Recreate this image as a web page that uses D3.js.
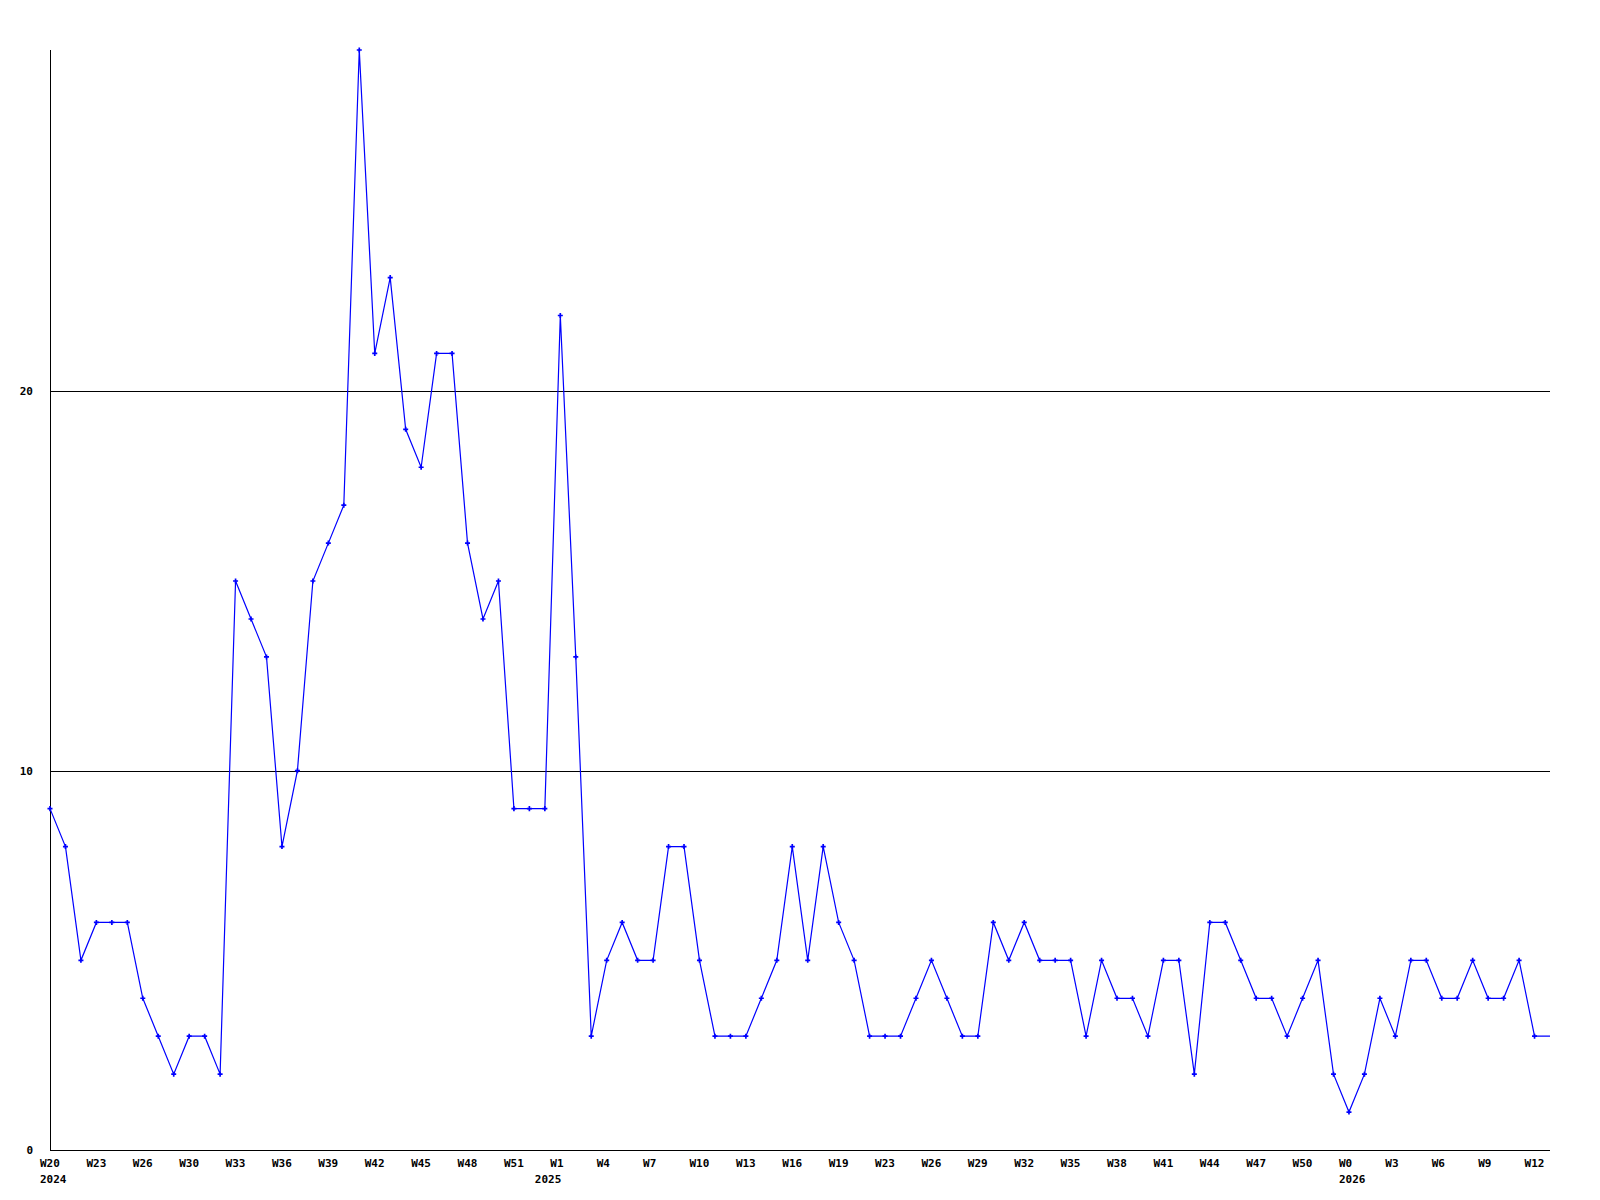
<!DOCTYPE html>
<html>
<head>
<meta charset="utf-8">
<script src="https://cdn.jsdelivr.net/npm/d3@7"></script>
<style>
  body { margin: 0; background: #fff; }
  text { font-family: "DejaVu Sans Mono", "Liberation Mono", monospace; font-weight: bold; font-size: 11px; fill: #000; }
</style>
</head>
<body>
<div id="chart"></div>
<script>
// weekly values, W20 2024 .. W13 2026 (last one only extends the line to the edge)
const values = [
  9, 8, 5, 6, 6, 6, 4, 3, 2, 3, 3, 2, 15, 14, 13, 8, 10, 15, 16, 17,
  29, 21, 23, 19, 18, 21, 21, 16, 14, 15, 9, 9, 9, 22, 13, 3, 5, 6, 5, 5,
  8, 8, 5, 3, 3, 3, 4, 5, 8, 5, 8, 6, 5, 3, 3, 3, 4, 5, 4, 3,
  3, 6, 5, 6, 5, 5, 5, 3, 5, 4, 4, 3, 5, 5, 2, 6, 6, 5, 4, 4,
  3, 4, 5, 2, 1, 2, 4, 3, 5, 5, 4, 4, 5, 4, 4, 5, 3, 3
];

// tick labels, one every 3 weeks
const weekLabels = [
  "W20", "W23", "W26", "W30", "W33", "W36", "W39", "W42", "W45", "W48", "W51",
  "W1", "W4", "W7", "W10", "W13", "W16", "W19", "W23", "W26", "W29", "W32",
  "W35", "W38", "W41", "W44", "W47", "W50", "W0", "W3", "W6", "W9", "W12"
];
// year label -> index of the week where the year starts
const yearNames = ["2024", "2025", "2026"];
const yearStart = [0, 32, 84];
const yTicks = [0, 10, 20];

var svgWidth = 1600, svgHeight = 1200;
var margin = {top: 50, right: 50, bottom: 50, left: 50};
var width = svgWidth - margin.left - margin.right;
var height = svgHeight - margin.top - margin.bottom;

var svg = d3.select("#chart").append("svg")
    .attr("width", svgWidth)
    .attr("height", svgHeight);

var plotArea = svg.append("g")
    .attr("transform", "translate(" + margin.left + "," + margin.top + ")");

var xscale = d3.scaleLinear()
    .domain([0, values.length - 1])
    .range([0, width]);

var yscale = d3.scaleLinear()
    .domain([0, 29])
    .range([height, 0]);

// horizontal grid lines
plotArea.selectAll(".grid")
    .data(yTicks.filter(d => d > 0))
    .enter().append("line")
    .attr("class", "grid")
    .attr("x1", 0)
    .attr("x2", width)
    .attr("y1", d => Math.round(yscale(d)) + 0.5)
    .attr("y2", d => Math.round(yscale(d)) + 0.5)
    .style("stroke", "#000")
    .style("stroke-width", 1)
    .style("shape-rendering", "crispEdges");

// axes lines
plotArea.append("line")
    .attr("x1", 0.5).attr("x2", 0.5)
    .attr("y1", 0).attr("y2", height)
    .style("stroke", "#000")
    .style("shape-rendering", "crispEdges");
plotArea.append("line")
    .attr("x1", 0).attr("x2", width)
    .attr("y1", height + 0.5).attr("y2", height + 0.5)
    .style("stroke", "#000")
    .style("shape-rendering", "crispEdges");

// y labels
plotArea.selectAll(".ylab")
    .data(yTicks)
    .enter().append("text")
    .attr("class", "ylab")
    .attr("x", -17)
    .attr("y", d => yscale(d) + 4)
    .attr("text-anchor", "end")
    .text(d => d);

// x labels, left aligned a little before the tick
plotArea.selectAll(".xlab")
    .data(weekLabels)
    .enter().append("text")
    .attr("class", "xlab")
    .attr("x", (d, i) => xscale(i * 3) - 10)
    .attr("y", height + 17)
    .text(d => d);

plotArea.selectAll(".year")
    .data(yearNames)
    .enter().append("text")
    .attr("class", "year")
    .attr("x", (d, i) => xscale(yearStart[i]) - 10)
    .attr("y", height + 33)
    .text(d => d);

// the series line
var line = d3.line()
    .x((d, i) => xscale(i))
    .y(d => yscale(d));

plotArea.append("path")
    .datum(values)
    .attr("d", line)
    .style("fill", "none")
    .style("stroke", "#0000ff")
    .style("stroke-width", 1.2);

// markers on every point except the edge extension
plotArea.selectAll(".point")
    .data(values.slice(0, values.length - 1))
    .enter().append("path")
    .attr("class", "point")
    .attr("d", d3.symbol().type(d3.symbolCross).size(14))
    .attr("transform", (d, i) => "translate(" + xscale(i) + "," + yscale(d) + ")")
    .style("fill", "#0000ff");
</script>
</body>
</html>
